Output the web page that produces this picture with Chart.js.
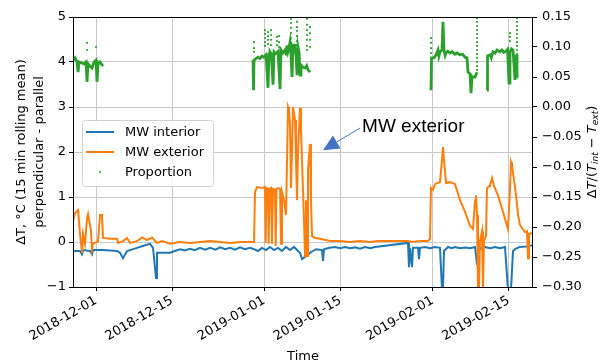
<!DOCTYPE html>
<html><head><meta charset="utf-8">
<script src="https://cdn.jsdelivr.net/npm/chart.js@4.4.1/dist/chart.umd.min.js"></script>
<style>html,body{margin:0;padding:0;background:#fff;overflow:hidden}#wrap{width:601px;height:363px;position:relative}</style>
</head><body><div id="wrap"><canvas id="c" width="601" height="363"></canvas></div>
<script>
// x values: days since 2018-12-01
const tickDays = [0, 14, 31, 45, 62, 76];
const tickLabels = ['2018-12-01','2018-12-15','2019-01-01','2019-01-15','2019-02-01','2019-02-15'];
const xRange = [-4.24, 80.48];

const interiorPoints = [[-4.24,-0.2],[-2.95,-0.2],[-2.58,-0.27],[-2.39,-0.18],[-1.10,-0.2],[-0.74,-0.27],[-0.55,-0.18],[1.29,-0.18],[3.87,-0.2],[4.42,-0.24],[4.97,-0.36],[5.71,-0.2],[7.55,-0.13],[8.6,-0.09],[9.94,-0.04],[10.50,-0.13],[11.05,-0.8],[11.23,-0.24],[13.63,-0.24],[14.5,-0.2],[15.47,-0.16],[16.4,-0.19],[17.31,-0.15],[18.2,-0.18],[19.15,-0.13],[20.1,-0.17],[20.99,-0.13],[22.0,-0.17],[22.84,-0.12],[23.8,-0.16],[24.68,-0.13],[25.6,-0.17],[26.52,-0.12],[27.4,-0.16],[28.36,-0.13],[29.10,-0.16],[29.83,-0.2],[30.57,-0.13],[31.31,-0.18],[32.04,-0.11],[32.78,-0.18],[33.52,-0.13],[34.25,-0.2],[34.99,-0.11],[35.73,-0.18],[36.46,-0.11],[37.20,-0.2],[37.57,-0.24],[37.94,-0.38],[38.49,-0.33],[39.04,-0.29],[39.41,-0.24],[39.96,-0.2],[40.52,-0.16],[41.62,-0.18],[41.80,-0.42],[41.99,-0.16],[43.0,-0.13],[44.01,-0.11],[45.0,-0.14],[45.86,-0.11],[46.8,-0.14],[47.70,-0.12],[48.6,-0.15],[49.54,-0.11],[50.5,-0.14],[51.38,-0.11],[57.46,-0.02],[57.64,-0.56],[57.83,-0.13],[58.20,-0.56],[58.38,-0.13],[59.30,-0.13],[59.48,-0.38],[59.67,-0.13],[60.6,-0.11],[61.51,-0.14],[62.4,-0.11],[63.35,-0.13],[63.72,-1.05],[63.90,-1.05],[64.09,-0.2],[64.83,-0.11],[65.5,-0.14],[66.11,-0.11],[67.0,-0.14],[67.96,-0.12],[68.9,-0.14],[69.80,-0.11],[70.17,-0.49],[70.35,-0.2],[71.0,-0.13],[71.64,-0.11],[72.6,-0.14],[73.48,-0.11],[74.4,-0.14],[75.32,-0.11],[75.87,-1.05],[76.43,-1.05],[76.80,-0.2],[77.16,-0.16],[78.08,-0.11],[79.2,-0.1],[80.48,-0.07]];

const exteriorPoints = [[-4.24,0.47],[-3.87,0.64],[-3.31,0.71],[-2.95,0.18],[-2.58,-0.24],[-2.39,0.18],[-2.03,-0.04],[-1.66,0.53],[-1.47,0.62],[-0.92,0.24],[-0.74,-0.16],[-0.55,-0.04],[0.37,0.02],[0.74,0.6],[1.10,0.6],[1.29,0.09],[2.58,0.07],[3.87,0.07],[4.05,-0.02],[4.97,0.02],[5.71,0.09],[6.26,-0.02],[7.55,0.02],[8.5,0.1],[9.39,0.04],[10.3,0.1],[11.23,-0.02],[12.15,0.02],[13.63,-0.04],[15.47,0.0],[17.31,-0.02],[19.15,0.0],[20.99,0.02],[22.84,0.0],[24.68,-0.02],[26.52,0.0],[28.36,0.0],[29.10,0.0],
[29.28,1.11],[29.65,1.22],[30.57,1.2],[31.12,1.22],[31.25,-0.02],[31.40,1.2],[31.68,1.18],[31.80,-0.04],[31.95,1.18],[32.23,1.2],[32.41,-0.04],[32.60,1.18],[32.97,1.16],[33.09,-0.09],[33.24,1.18],[33.52,1.2],[33.89,1.18],[34.07,-0.04],[34.25,1.11],[34.62,0.93],[34.99,0.6],[35.36,3.0],[35.54,2.93],[35.73,2.6],[35.91,1.2],[36.10,2.04],[36.28,3.0],[36.65,2.71],[36.83,1.82],[37.02,0.93],[37.20,2.04],[37.57,2.98],[37.75,2.49],[37.94,1.78],[38.12,1.16],[38.31,0.47],[38.49,-0.31],[38.67,0.93],[38.86,-0.31],[39.04,1.6],[39.41,2.18],[39.59,0.93],[39.78,0.13],[40.33,0.09],[41.25,0.07],[43.09,0.02],[44.94,0.02],[46.78,0.0],[48.62,0.02],[50.46,0.0],[51.93,0.02],[57.46,0.02],[58.20,0.0],[59.67,0.02],[61.14,0.02],[61.51,0.07],
[61.69,1.2],[62.06,1.16],[62.43,1.29],[63.35,1.33],[63.72,1.82],[63.90,2.11],[64.09,1.82],[64.46,1.31],[65.19,1.33],[66.11,1.29],[67.03,0.93],[67.96,0.67],[68.88,0.36],[69.43,0.29],[69.80,0.93],[69.98,1.04],[70.17,0.6],[70.35,-1.05],[70.53,-1.05],[70.72,0.02],[71.09,0.24],[71.27,-1.05],[71.45,0.02],[71.82,0.13],[72.01,1.2],[72.38,1.24],[72.56,1.27],[72.93,1.42],[73.30,1.24],[74.03,1.04],[74.95,0.67],[75.87,0.29],[76.24,1.16],[76.43,1.78],[76.61,1.71],[76.98,1.38],[77.35,1.04],[77.72,0.6],[78.08,0.38],[78.45,0.31],[79.00,0.22],[79.37,0.24],[79.56,-0.36],[79.74,0.18],[80.48,0.2]];

// proportion (right axis): dense stretches drawn as lines (null = gap), plus isolated dots
const proportionLinePoints = [[-4.24,0.078],[-3.87,0.082],[-3.50,0.075],[-3.31,0.058],[-3.13,0.075],[-2.21,0.072],[-1.84,0.075],[-1.66,0.042],[-1.47,0.072],[-1.10,0.068],[-0.74,0.065],[-0.37,0.075],[0,0.078],[0.18,0.042],[0.37,0.072],[0.74,0.075],[1.10,0.07],[1.29,0.068],
[15,null],
[28.91,0.078],[29.01,0.028],[29.10,0.078],[29.5,0.081],[29.83,0.083],[30.2,0.081],[30.57,0.085],[30.9,0.083],[31.31,0.087],[31.68,0.032],[31.86,0.088],[32.04,0.092],[32.3,0.088],[32.60,0.037],[32.78,0.092],[33.1,0.089],[33.52,0.093],[33.89,0.03],[34.07,0.095],[34.4,0.09],[34.81,0.095],[35.0,0.088],[35.17,0.103],[35.35,0.092],[35.54,0.098],[35.73,0.108],[35.9,0.09],[36.10,0.05],[36.28,0.105],[36.45,0.094],[36.65,0.098],[36.85,0.085],[37.02,0.053],[37.20,0.1],[37.4,0.09],[37.57,0.053],[37.75,0.07],[38.1,0.066],[38.49,0.065],[38.8,0.069],[39.04,0.062],[39.41,0.058],
[50,null],
[61.69,0.028],[61.79,0.082],[62.25,0.082],[62.62,0.087],[62.98,0.095],[63.15,0.085],[63.35,0.092],[63.72,0.095],[63.90,0.142],[64.09,0.095],[64.3,0.086],[64.46,0.09],[64.8,0.093],[65.19,0.09],[65.6,0.092],[66.11,0.088],[66.5,0.09],[67.03,0.087],[67.5,0.088],[67.96,0.083],[68.32,0.082],[68.51,0.058],[68.88,0.055],[69.06,0.023],[69.24,0.05],[69.80,0.05],[70.17,0.058],
[71,null],
[72.01,0.028],[72.10,0.085],[72.56,0.087],[72.8,0.082],[73.11,0.092],[73.5,0.09],[73.85,0.095],[74.3,0.092],[74.77,0.095],[75.1,0.091],[75.51,0.093],[75.8,0.096],[76.06,0.04],[76.24,0.092],[76.5,0.097],[76.80,0.095],[77.16,0.045],[77.35,0.087],[77.53,0.048]];

const proportionDotPoints = [[-1.66,0.107],[-1.66,0.095],[0,0.1],
[29.10,0.108],[29.10,0.098],[29.10,0.092],
[31.12,0.128],[31.12,0.122],[31.12,0.115],[31.12,0.108],[31.12,0.102],
[31.68,0.125],[31.68,0.118],[31.68,0.112],[31.68,0.105],
[32.23,0.128],[32.23,0.12],[32.23,0.112],[32.23,0.103],
[33.33,0.117],[33.33,0.11],[33.33,0.103],
[33.70,0.118],[33.70,0.108],[33.70,0.1],
[35.91,0.147],[35.91,0.14],[35.91,0.132],[35.91,0.123],[35.91,0.115],[35.91,0.107],
[37.02,0.142],[37.02,0.133],[37.02,0.127],[37.02,0.118],[37.02,0.11],[37.02,0.103],
[38.86,0.147],[38.86,0.137],[38.86,0.128],[38.86,0.12],[38.86,0.112],[38.86,0.102],[38.86,0.095],
[39.41,0.133],[39.41,0.123],[39.41,0.112],[39.41,0.1],
[61.69,0.115],[61.69,0.107],[61.69,0.098],[61.69,0.09],
[70.17,0.148],[70.17,0.142],[70.17,0.135],[70.17,0.128],[70.17,0.122],[70.17,0.115],[70.17,0.108],[70.17,0.102],[70.17,0.095],[70.17,0.088],[70.17,0.082],[70.17,0.075],[70.17,0.068],[70.17,0.062],
[76.24,0.123],[76.24,0.117],[76.24,0.11],
[77.53,0.148],[77.53,0.142],[77.53,0.135],[77.53,0.128],[77.53,0.122],[77.53,0.115],[77.53,0.108],[77.53,0.102],[77.53,0.095],[77.53,0.088],[77.53,0.082],[77.53,0.075],[77.53,0.068],[77.53,0.062],[77.53,0.055]];

const seriesNames = ['MW interior', 'MW exterior', 'Proportion'];
const seriesColors = ['#1f77b4', '#ff7f0e', '#2ca02c'];
const annotationText = 'MW exterior';
const annotationTip = [41.8, 2.04];
const annotationTail = [48.6, 2.53];
const annotationTextPos = [49.0, 2.44];

const toXY = arr => arr.map(p => ({x: p[0], y: p[1]}));
const FONT = 'DejaVu Sans';
const minus = s => String(s).replace('-', '\u2212');

const overlay = {
  id: 'overlay',
  afterDatasetsDraw(chart) {
    const {ctx, chartArea: a, scales} = chart;
    const xs = scales.x, ys = scales.y;
    ctx.save();
    // frame
    ctx.strokeStyle = '#000'; ctx.lineWidth = 1;
    ctx.strokeRect(a.left + 0.5, a.top + 0.5, a.right - a.left - 1, a.bottom - a.top);
    // legend
    const lx = a.left + 9, ly = a.top + 103, lw = 131, lh = 66;
    ctx.beginPath();
    ctx.roundRect(lx + 0.5, ly + 0.5, lw, lh, 3);
    ctx.fillStyle = 'rgba(255,255,255,0.85)'; ctx.fill();
    ctx.strokeStyle = '#d0d0d0'; ctx.stroke();
    ctx.font = '13px "' + FONT + '"';
    ctx.textBaseline = 'middle'; ctx.textAlign = 'left';
    for (let i = 0; i < 3; i++) {
      const cy = ly + 12 + i * 20;
      if (i < 2) {
        ctx.strokeStyle = seriesColors[i]; ctx.lineWidth = 2;
        ctx.beginPath(); ctx.moveTo(lx + 4, cy); ctx.lineTo(lx + 32, cy); ctx.stroke();
      } else {
        ctx.fillStyle = seriesColors[i];
        ctx.beginPath(); ctx.arc(lx + 18, cy, 1.1, 0, Math.PI * 2); ctx.fill();
      }
      ctx.fillStyle = '#000';
      ctx.fillText(seriesNames[i], lx + 43, cy + 1);
    }
    // annotation arrow
    const tx = xs.getPixelForValue(annotationTip[0]), ty = ys.getPixelForValue(annotationTip[1]);
    const sx = xs.getPixelForValue(annotationTail[0]), sy = ys.getPixelForValue(annotationTail[1]);
    const ang = Math.atan2(sy - ty, sx - tx);
    const hl = 16, hw = 7.5;
    const bx = tx + Math.cos(ang) * hl, by = ty + Math.sin(ang) * hl;
    ctx.strokeStyle = '#4472c4'; ctx.lineWidth = 1;
    ctx.beginPath(); ctx.moveTo(bx, by); ctx.lineTo(sx, sy); ctx.stroke();
    ctx.fillStyle = '#4472c4';
    ctx.beginPath();
    ctx.moveTo(tx, ty);
    ctx.lineTo(bx - Math.sin(ang) * hw, by + Math.cos(ang) * hw);
    ctx.lineTo(bx + Math.sin(ang) * hw, by - Math.cos(ang) * hw);
    ctx.closePath(); ctx.fill();
    ctx.fillStyle = '#000';
    ctx.font = '19px "Liberation Sans"';
    ctx.textBaseline = 'alphabetic';
    ctx.fillText(annotationText, xs.getPixelForValue(annotationTextPos[0]), ys.getPixelForValue(annotationTextPos[1]));
    // right axis title (reads bottom to top)
    ctx.translate(593, (a.top + a.bottom) / 2);
    ctx.rotate(-Math.PI / 2);
    const parts = [
      ['\u0394', '13px', 0], ['T', 'italic 13px', 0], ['/(', '13px', 0], ['T', 'italic 13px', 0],
      ['int', 'italic 9px', 3], [' \u2212 ', '13px', 0], ['T', 'italic 13px', 0], ['ext', 'italic 9px', 3], [')', '13px', 0]
    ];
    let total = 0;
    parts.forEach(p => { ctx.font = p[1] + ' "' + FONT + '"'; total += ctx.measureText(p[0]).width; });
    let px = -total / 2;
    ctx.textBaseline = 'middle';
    parts.forEach(p => { ctx.font = p[1] + ' "' + FONT + '"'; ctx.fillText(p[0], px, p[2]); px += ctx.measureText(p[0]).width; });
    ctx.restore();
  }
};

new Chart(document.getElementById('c'), {
  type: 'scatter',
  data: {
    datasets: [
      {label: seriesNames[2] + ' dots', data: toXY(proportionDotPoints), yAxisID: 'y2', showLine: false,
       pointRadius: 1.1, pointBackgroundColor: seriesColors[2], pointBorderWidth: 0},
      {label: seriesNames[2], data: toXY(proportionLinePoints), yAxisID: 'y2', showLine: true, spanGaps: false,
       borderColor: seriesColors[2], borderWidth: 2.8, pointRadius: 0},
      {label: seriesNames[1], data: toXY(exteriorPoints), yAxisID: 'y', showLine: true,
       borderColor: seriesColors[1], borderWidth: 2, pointRadius: 0},
      {label: seriesNames[0], data: toXY(interiorPoints), yAxisID: 'y', showLine: true,
       borderColor: seriesColors[0], borderWidth: 2, pointRadius: 0}
    ]
  },
  options: {
    responsive: false, animation: false, devicePixelRatio: 1,
    layout: {padding: {top: 17, left: 0, right: 0, bottom: 0}},
    plugins: {legend: {display: false}, tooltip: {enabled: false}},
    elements: {line: {tension: 0}},
    scales: {
      x: {
        type: 'linear', min: xRange[0], max: xRange[1],
        afterBuildTicks: s => { s.ticks = tickDays.map(v => ({value: v})); },
        afterFit: s => { s.height = 76; },
        ticks: {autoSkip: false, minRotation: 30, maxRotation: 30, color: '#000', padding: 2,
                font: {family: FONT, size: 13}, callback: (v, i) => tickLabels[i]},
        grid: {color: '#c8c8c8', tickColor: '#000', tickLength: 4, lineWidth: 1},
        border: {display: false},
        title: {display: true, text: 'Time', color: '#000', font: {family: FONT, size: 13, lineHeight: 1.0}, padding: {top: 0, bottom: 0}}
      },
      y: {
        position: 'left', min: -1, max: 5,
        afterFit: s => { s.width = 73; },
        ticks: {stepSize: 1, color: '#000', padding: 3, font: {family: FONT, size: 13}, callback: v => minus(v)},
        grid: {color: '#c8c8c8', tickColor: '#000', tickLength: 4, lineWidth: 1},
        border: {display: false},
        title: {display: true, text: ['\u0394T, \u00b0C (15 min rolling mean)', 'perpendicular - parallel'], color: '#000',
                font: {family: FONT, size: 13, lineHeight: 1.38}, padding: {top: 13, bottom: 0}}
      },
      y2: {
        position: 'right', min: -0.30, max: 0.15,
        afterFit: s => { s.width = 68; },
        ticks: {stepSize: 0.05, color: '#000', padding: 5, font: {family: FONT, size: 13},
                callback: v => Math.abs(v) < 1e-9 ? '0.00' : minus(v.toFixed(2))},
        grid: {drawOnChartArea: false, tickColor: '#000', tickLength: 4},
        border: {display: false}
      }
    }
  },
  plugins: [overlay]
});
</script></body></html>
